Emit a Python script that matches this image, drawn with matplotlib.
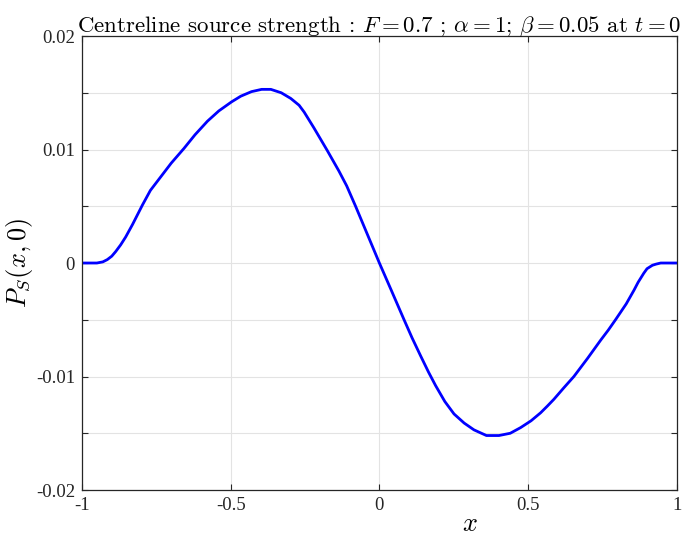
import numpy as np
import matplotlib.pyplot as plt

plt.rcParams['mathtext.fontset'] = 'cm'
plt.rcParams['font.family'] = ['Liberation Serif', 'DejaVu Serif']

# centreline source strength P_S(x, 0)
x_pts = [-1.0, -0.97, -0.95, -0.93, -0.915, -0.90, -0.887, -0.87, -0.853, -0.83,
         -0.797, -0.77, -0.735, -0.70, -0.657, -0.62, -0.578, -0.54, -0.497,
         -0.466, -0.43, -0.396, -0.365, -0.33, -0.298, -0.27, -0.253, -0.220,
         -0.175, -0.136, -0.11, -0.080, -0.04, 0.0, 0.04, 0.083, 0.11, 0.139,
         0.165, 0.189, 0.22, 0.251, 0.285, 0.318, 0.36, 0.402, 0.44, 0.475, 0.51,
         0.542, 0.565, 0.587, 0.62, 0.654, 0.70, 0.744, 0.77, 0.794, 0.83, 0.856,
         0.87, 0.889, 0.90, 0.918, 0.93, 0.946, 0.97, 1.0]
ps_pts = [0.0, 0.0, 0.0, 0.0001, 0.0003, 0.0006, 0.0010, 0.0016, 0.0023, 0.0034,
          0.0051, 0.0064, 0.0076, 0.0088, 0.0101, 0.0113, 0.0125, 0.0134, 0.0142,
          0.0147, 0.0151, 0.0153, 0.0153, 0.0150, 0.0145, 0.0139, 0.0133, 0.0119,
          0.0099, 0.0081, 0.0068, 0.0050, 0.0025, 0.0, -0.0024, -0.0050, -0.0066,
          -0.0082, -0.0096, -0.0108, -0.0122, -0.0133, -0.0141, -0.0147, -0.0152,
          -0.0152, -0.0150, -0.0145, -0.0139, -0.0132, -0.0126, -0.0120, -0.0110,
          -0.0100, -0.0084, -0.0068, -0.0059, -0.0050, -0.0036, -0.0024, -0.0017,
          -0.0009, -0.0005, -0.0002, -0.0001, 0.0, 0.0, 0.0]

xticks = [-1, -0.5, 0, 0.5, 1]
xtick_labels = ['-1', '-0.5', '0', '0.5', '1']
yticks = [-0.02, -0.015, -0.01, -0.005, 0, 0.005, 0.01, 0.015, 0.02]
ytick_labels = ['-0.02', '', '-0.01', '', '0', '', '0.01', '', '0.02']

fig = plt.figure(figsize=(6.92, 5.36), dpi=100)
ax = fig.add_axes([0.1185, 0.0858, 0.8595, 0.847])

ax.plot(x_pts, ps_pts, color=(0, 0, 1), linewidth=2.0,
        solid_joinstyle='round', solid_capstyle='round')

ax.set_xlim(-1, 1)
ax.set_ylim(-0.02, 0.02)
ax.set_xticks(xticks)
ax.set_xticklabels(xtick_labels)
ax.set_yticks(yticks)
ax.set_yticklabels(ytick_labels)
ax.tick_params(direction='in', top=True, right=True, length=4, width=0.8,
               colors='#262626', labelsize=13.5, pad=5)
ax.grid(True, color='#e3e3e3', linewidth=0.8)
ax.set_axisbelow(True)
for s in ax.spines.values():
    s.set_color('#262626')
    s.set_linewidth(0.9)

ax.set_xlabel(r'$x$', fontsize=19)
ax.xaxis.set_label_coords(0.652, -0.052)
ax.set_ylabel(r'$P_S(x,0)$', fontsize=19, labelpad=1)
ax.set_title(r'Centreline source strength : $F = 0.7$ ; $\alpha = 1$; $\beta = 0.05$ at $t = 0$',
             fontsize=16.5, family='cmr10', pad=3)

fig.savefig('out.png', dpi=100)
